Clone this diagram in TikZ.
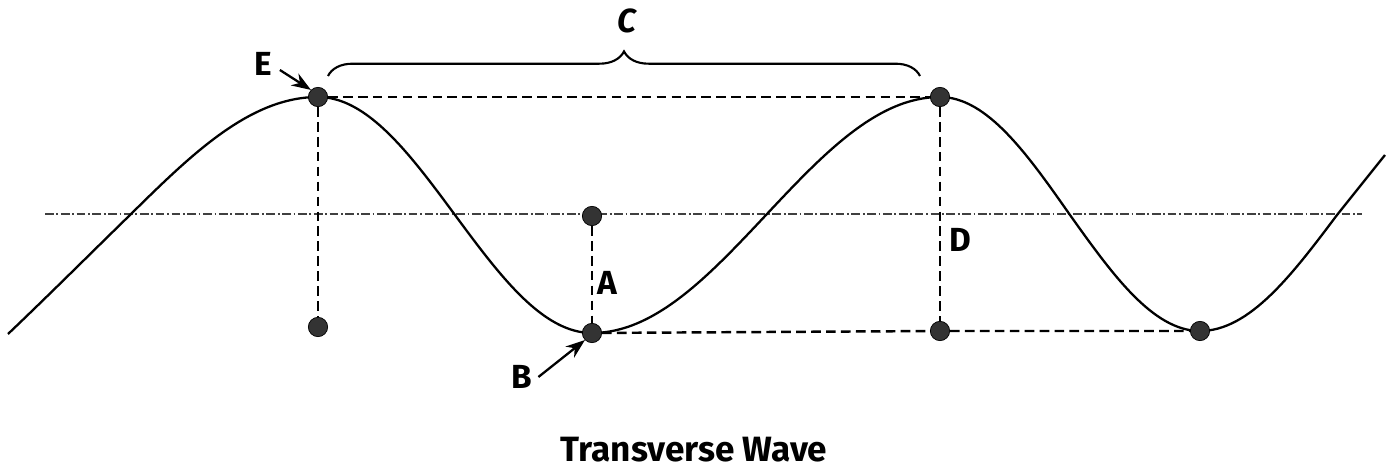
\documentclass[tikz,border=0pt]{standalone}
\usepackage{fontspec}
\setmainfont{Fira Sans}
\usetikzlibrary{arrows.meta,decorations.pathreplacing}
\definecolor{dotgray}{HTML}{333333}
\tikzset{
  wave/.style={line width=1.3pt, black},
  guide/.style={line width=1.4pt, black, dash pattern=on 5.5pt off 3pt},
  midline/.style={line width=0.7pt, black!75, dash pattern=on 5pt off 1.5pt on 1pt off 1.5pt},
  pt/.style={circle, fill=dotgray, draw=black, line width=0.4pt, inner sep=0pt, minimum size=11pt},
  lbl/.style={font=\fontsize{19}{21}\selectfont\bfseries, inner sep=1pt},
  pointer/.style={line width=1.3pt, -{Stealth[length=11pt,width=8pt]}},
  bracestyle/.style={line width=1.2pt, decorate, decoration={brace, amplitude=14pt}}
}
\begin{document}
\begin{tikzpicture}[x=0.02cm, y=-0.02cm]
\useasboundingbox (0,0) rectangle (1390,469);
% midline
\coordinate (mL) at (45,214);
\coordinate (mR) at (1362,214);
\draw[midline] (mL) -- (mR);
% wave
\draw[wave] (8,334) .. controls (50,294) and (90,254) .. (130,215)
  sin (318,97) cos (455,215) sin (592,333) cos (766,215) sin (940,97)
  cos (1070,215) sin (1200,331) cos (1337,215)
  .. controls (1353,195) and (1369,175) .. (1385,155);
% points
\node[pt] (E) at (318,97) {};
\node[pt] (Ep) at (318,327) {};
\node[pt] (Am) at (592,216) {};
\node[pt] (B) at (592,333) {};
\node[pt] (Dc) at (940,97) {};
\node[pt] (Db) at (940,331) {};
\node[pt] (T2) at (1200,331) {};
% guides
\draw[guide] (E) -- (Ep);
\draw[guide] (E) -- (Dc);
\draw[guide] (Am) -- (B);
\draw[guide] (Dc) -- (Db);
\draw[guide] (B) -- (Db) -- (T2);
% brace
\coordinate (bL) at (328,76);
\coordinate (bR) at (920,76);
\draw[bracestyle] (bL) -- (bR);
% labels
\node[lbl] (lC) at (627,21) {\itshape C};
\node[lbl] (lE) at (263,64) {E};
\node[lbl] (lA) at (607,283) {A};
\node[lbl] (lB) at (522,377) {B};
\node[lbl] (lD) at (960,240) {D};
\node[font=\fontsize{20}{24}\selectfont\bfseries] (title) at (694,450) {Transverse Wave};
% pointers
\draw[pointer] ([shift={(6,6)}]lE.east) -- (E.north west);
\draw[pointer] ([shift={(4,0)}]lB.east) -- (B.south west);
\end{tikzpicture}
\end{document}
